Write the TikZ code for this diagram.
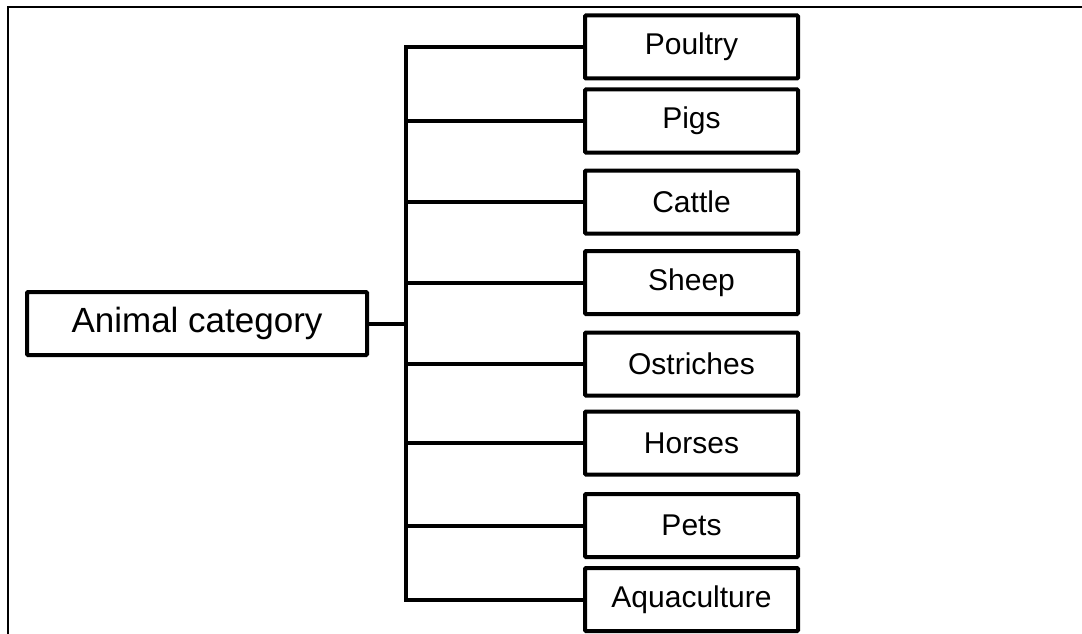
\documentclass[tikz,border=0pt]{standalone}
\usepackage{fontspec}
\setmainfont{Liberation Sans}
\begin{document}
\begin{tikzpicture}[x=1pt,y=-1pt,
  catbox/.style={draw, line width=4pt, rounded corners=1pt, inner sep=0pt,
    minimum width=213pt, minimum height=63pt,
    font=\fontsize{30}{36}\selectfont},
  rootbox/.style={catbox, minimum width=340pt, font=\fontsize{35}{42}\selectfont},
  link/.style={line width=4pt},
  frame/.style={line width=2pt}]
\useasboundingbox (0,0) rectangle (1082,634);
% open frame: top and left edges only
\draw[frame] (8,634) -- (8,7) -- (1082,7);

\node[rootbox] (root) at (197,323.5) {Animal category};
\coordinate (hub) at (406,323.5);

\node[catbox] (poultry) at (691.5,47)    {Poultry};
\node[catbox] (pigs)    at (691.5,121)   {Pigs};
\node[catbox] (cattle)  at (691.5,202)   {Cattle};
\node[catbox] (sheep)   at (691.5,282.5) {Sheep};
\node[catbox] (ostr)    at (691.5,364)   {Ostriches};
\node[catbox] (horses)  at (691.5,443)   {Horses};
\node[catbox] (pets)    at (691.5,525.5) {Pets};
\node[catbox] (aqua)    at (691.5,599.5) {Aquaculture};

\draw[link] (root.east) -- (hub);
\foreach \c in {poultry,pigs,cattle,sheep,ostr,horses,pets,aqua}
  \draw[link] (hub) |- (\c.west);
\end{tikzpicture}
\end{document}
